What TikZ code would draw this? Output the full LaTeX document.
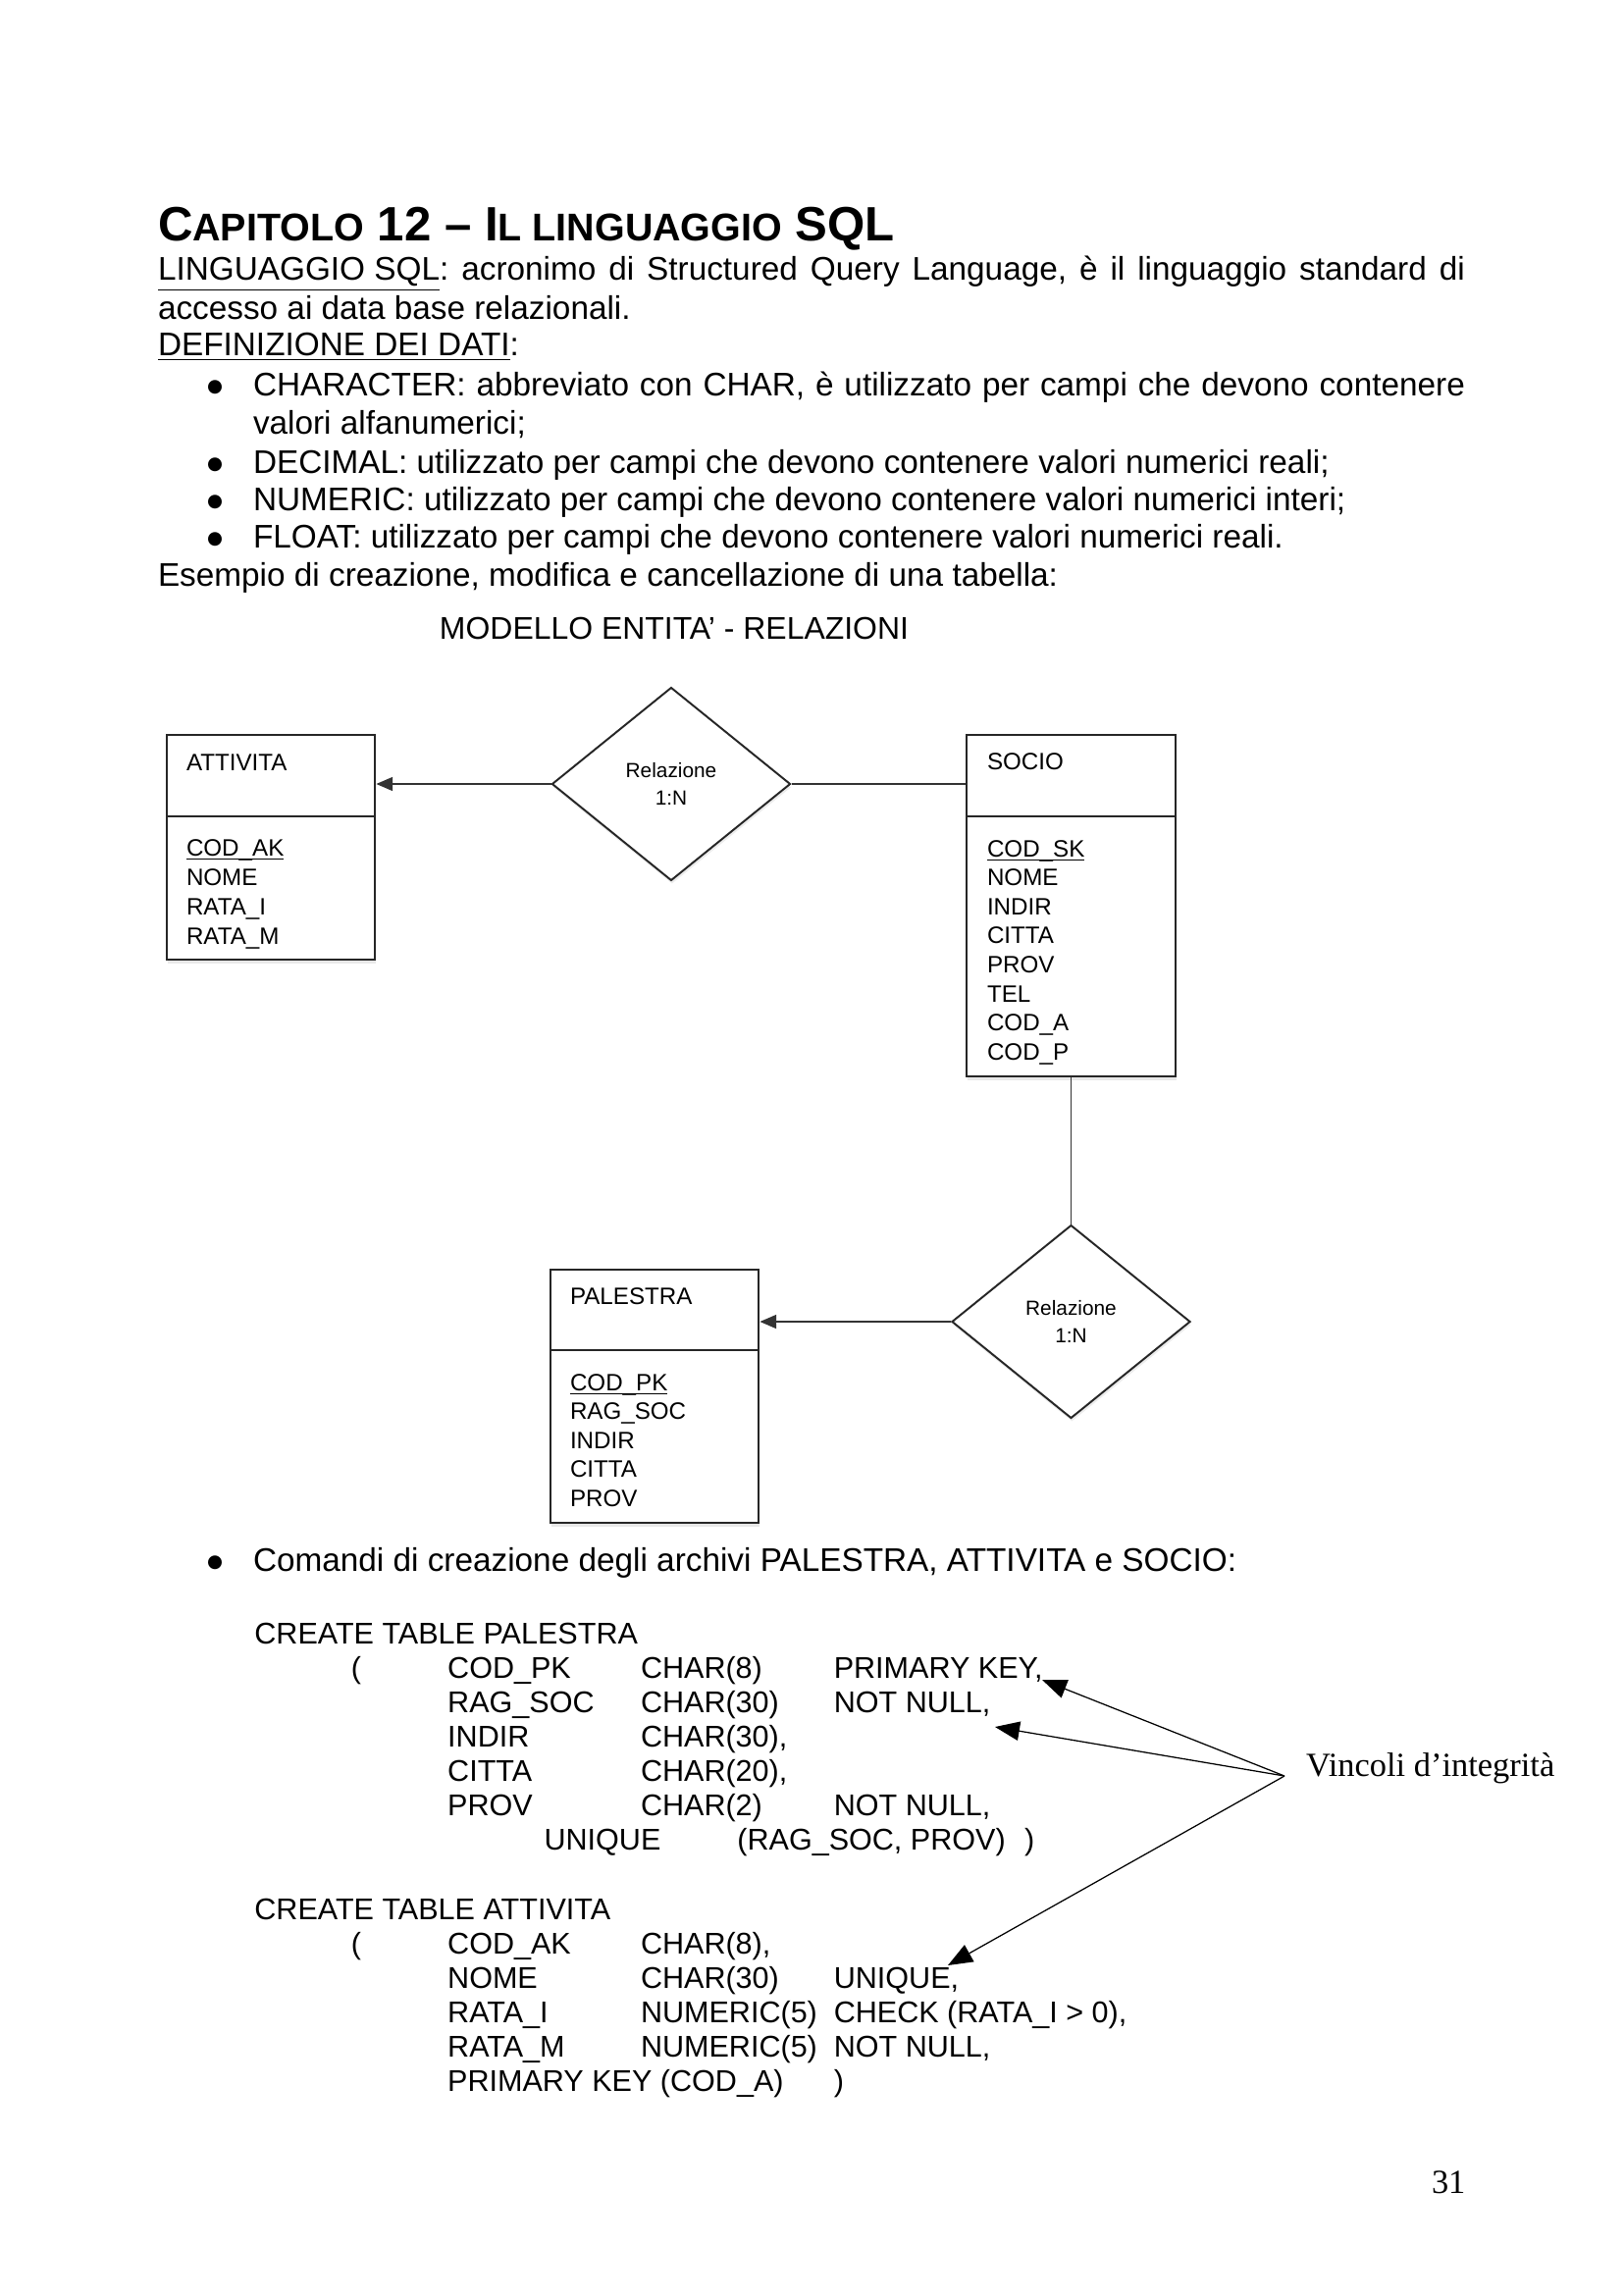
\documentclass[tikz,border=0pt]{standalone}
\usepackage{fontspec}
\setmainfont{Liberation Sans}
\newfontfamily\serifpn{Liberation Serif}
\newfontfamily\dejavu{DejaVu Sans}
\usetikzlibrary{arrows.meta,shapes.geometric,fit,shadows}
\newcommand\tsc[1]{{\fontsize{14.2pt}{16pt}\selectfont #1}}
\newcommand\keyul[1]{\underline{\smash{#1}}}
\newcommand\bigbul{\raisebox{1.2pt}{●}}
\frenchspacing
\begin{document}
\begin{tikzpicture}[x=0.36pt, y=-0.36pt,
  txt/.style={anchor=base west, inner sep=0pt, outer sep=0pt},
  body/.style={txt, font=\fontsize{12pt}{14pt}\selectfont},
  bul/.style={anchor=base, inner sep=0pt, font=\dejavu\fontsize{6.6pt}{8pt}\selectfont},
  code/.style={txt, font=\fontsize{11pt}{13pt}\selectfont},
  attr/.style={txt, font=\fontsize{8.7pt}{10.8pt}\selectfont},
  serif/.style={txt, font=\serifpn\fontsize{12.4pt}{14pt}\selectfont},
  entbox/.style={draw=black!85, line width=1pt, fill=white, inner sep=0pt,
    drop shadow={opacity=0.18, shadow xshift=0.4pt, shadow yshift=-1.4pt}},
  divider/.style={draw=black!85, line width=0.9pt},
  reldiam/.style={diamond, draw=black!85, line width=0.7pt, fill=white, inner sep=0pt,
    minimum width=87.5pt, minimum height=70.9pt, align=center,
    font=\fontsize{7.5pt}{10pt}\selectfont,
    drop shadow={opacity=0.15, shadow xshift=0.3pt, shadow yshift=-1.2pt}},
  conn/.style={draw=black!80, line width=0.6pt},
  erarrow/.style={conn, -{Triangle[length=6pt,width=5pt]}},
  callout/.style={draw=black, line width=0.45pt, -{Triangle[length=9pt,width=7pt]}},
]
\fill[white] (0,0) rectangle (1654,2339);
\useasboundingbox (0,0) rectangle (1654,2339);

% ---------- heading and body text ----------
\node[body] (title) at (161,245) {\bfseries\fontsize{17.7pt}{20pt}\selectfont C\tsc{APITOLO} 12 – I\tsc{L LINGUAGGIO} SQL};
\node[body] (l1) at (161,285) {\makebox[479.5pt][s]{\underline{LINGUAGGIO SQL}: acronimo di Structured Query Language, è il linguaggio standard di}};
\node[body] (l2) at (161,325) {accesso ai data base relazionali.};
\node[body] (l3) at (161,362) {\underline{DEFINIZIONE DEI DATI}:};
\node[bul] (b1) at (219,403) {\bigbul};
\node[body] (l4) at (258,403) {\makebox[444.6pt][s]{CHARACTER: abbreviato con CHAR, è utilizzato per campi che devono contenere}};
\node[body] (l5) at (258,442) {valori alfanumerici;};
\node[bul] (b2) at (219,482) {\bigbul};
\node[body] (l6) at (258,482) {DECIMAL: utilizzato per campi che devono contenere valori numerici reali;};
\node[bul] (b3) at (219,520) {\bigbul};
\node[body] (l7) at (258,520) {NUMERIC: utilizzato per campi che devono contenere valori numerici interi;};
\node[bul] (b4) at (219,558) {\bigbul};
\node[body] (l8) at (258,558) {FLOAT: utilizzato per campi che devono contenere valori numerici reali.};
\node[body] (l9) at (161,597) {Esempio di creazione, modifica e cancellazione di una tabella:};

% ---------- E-R diagram ----------
\node[anchor=base, inner sep=0pt, font=\fontsize{11.5pt}{13pt}\selectfont] (mtitle) at (687,651) {MODELLO ENTITA’ - RELAZIONI};

\node[entbox, fit={(170,749) (382,978)}] (att) {};
\draw[divider] (170,832) -- (382,832);
\node[attr] (att-t) at (190,785) {ATTIVITA};
\foreach \t [count=\i from 0] in {\keyul{COD\_AK}, NOME, RATA\_I, RATA\_M}
  \node[attr] (att-\i) at (190,872+30*\i) {\t};

\node[entbox, fit={(985,749) (1198,1097)}] (soc) {};
\draw[divider] (985,832) -- (1198,832);
\node[attr] (soc-t) at (1006,784) {SOCIO};
\foreach \t [count=\i from 0] in {\keyul{COD\_SK}, NOME, INDIR, CITTA, PROV, TEL, COD\_A, COD\_P}
  \node[attr] (soc-\i) at (1006,873+29.6*\i) {\t};

\node[entbox, fit={(561,1294) (773,1552)}] (pal) {};
\draw[divider] (561,1376) -- (773,1376);
\node[attr] (pal-t) at (581,1329) {PALESTRA};
\foreach \t [count=\i from 0] in {\keyul{COD\_PK}, RAG\_SOC, INDIR, CITTA, PROV}
  \node[attr] (pal-\i) at (581,1417+29.6*\i) {\t};

\node[reldiam] (r1) at (684,799) {Relazione\\1:N};
\node[reldiam] (r2) at (1091.5,1347) {Relazione\\1:N};

\draw[erarrow] (r1.west) -- (r1.west -| att.east);
\draw[conn] (r1.east) -- (r1.east -| soc.west);
\draw[conn] (soc.south) -- (r2.north);
\draw[erarrow] (r2.west) -- (r2.west -| pal.east);

% ---------- SQL commands ----------
\node[bul] (b5) at (219,1601) {\bigbul};
\node[body] (l10) at (258,1601) {Comandi di creazione degli archivi PALESTRA, ATTIVITA e SOCIO:};

\node[code] (p0) at (259.4,1675) {CREATE TABLE PALESTRA};
\node[code] (p1a) at (357.8,1710) {(};
\node[code] (p1b) at (456.2,1710) {COD\_PK};
\node[code] (p1c) at (653,1710) {CHAR(8)};
\node[code] (p1d) at (849.8,1710) {PRIMARY KEY,};
\node[code] (p2b) at (456.2,1745) {RAG\_SOC};
\node[code] (p2c) at (653,1745) {CHAR(30)};
\node[code] (p2d) at (849.8,1745) {NOT NULL,};
\node[code] (p3b) at (456.2,1780) {INDIR};
\node[code] (p3c) at (653,1780) {CHAR(30),};
\node[code] (p4b) at (456.2,1815) {CITTA};
\node[code] (p4c) at (653,1815) {CHAR(20),};
\node[code] (p5b) at (456.2,1850) {PROV};
\node[code] (p5c) at (653,1850) {CHAR(2)};
\node[code] (p5d) at (849.8,1850) {NOT NULL,};
\node[code] (p6a) at (554.6,1885) {UNIQUE};
\node[code] (p6b) at (751.4,1885) {(RAG\_SOC, PROV)};
\node[code] (p6c) at (1044,1885) {)};

\node[code] (a0) at (259.4,1956) {CREATE TABLE ATTIVITA};
\node[code] (a1a) at (357.8,1991) {(};
\node[code] (a1b) at (456.2,1991) {COD\_AK};
\node[code] (a1c) at (653,1991) {CHAR(8),};
\node[code] (a2b) at (456.2,2026) {NOME};
\node[code] (a2c) at (653,2026) {CHAR(30)};
\node[code] (a2d) at (849.8,2026) {UNIQUE,};
\node[code] (a3b) at (456.2,2061) {RATA\_I};
\node[code] (a3c) at (653,2061) {NUMERIC(5)};
\node[code] (a3d) at (849.8,2061) {CHECK (RATA\_I > 0),};
\node[code] (a4b) at (456.2,2096) {RATA\_M};
\node[code] (a4c) at (653,2096) {NUMERIC(5)};
\node[code] (a4d) at (849.8,2096) {NOT NULL,};
\node[code] (a5b) at (456.2,2131) {PRIMARY KEY (COD\_A)};
\node[code] (a5d) at (849.8,2131) {)};

% ---------- integrity-constraint callouts ----------
\node[serif] (vinc) at (1331,1810) {Vincoli d’integrità};
\coordinate (apex) at (1309,1810);
\coordinate (t1) at (1062,1712);
\coordinate (t2) at (1014,1760);
\coordinate (t3) at (966,2003);
\draw[callout] (apex) -- (t1);
\draw[callout] (apex) -- (t2);
\draw[callout] (apex) -- (t3);

% ---------- page number ----------
\node[serif] (pg) at (1459,2235) {31};
\end{tikzpicture}
\end{document}
